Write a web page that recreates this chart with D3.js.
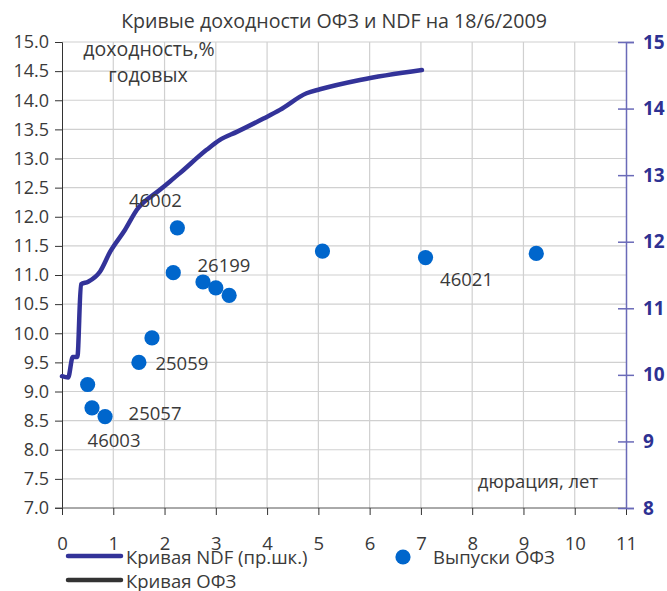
<!DOCTYPE html>
<html><head><meta charset="utf-8">
<script src="https://cdn.jsdelivr.net/npm/d3@7"></script>
<style>
body{margin:0;background:#fff;}
text{font-family:"Open Sans",sans-serif;}
</style></head>
<body><svg id="c" width="667" height="591"></svg>
<script>
// ---- data ----
const title = "Кривые доходности ОФЗ и NDF на 18/6/2009";
const ndfDuration = [0.00, 0.12, 0.21, 0.30, 0.37, 0.51, 0.74, 0.94, 1.23, 1.46, 1.91, 2.30, 2.82, 3.08, 3.41, 3.93, 4.25, 4.77, 5.03, 5.81, 7.02];
const ndfYield    = [9.98, 9.96, 10.27, 10.27, 11.36, 11.40, 11.55, 11.85, 12.18, 12.48, 12.78, 13.03, 13.38, 13.53, 13.65, 13.85, 13.98, 14.23, 14.29, 14.43, 14.58];
const ofzCurveDuration = [];
const ofzCurveYield = [];
const issueDuration = [0.50, 0.585, 0.84, 1.50, 1.755, 2.17, 2.25, 2.75, 3.00, 3.26, 5.08, 7.09, 9.25];
const issueYield    = [9.12, 8.72, 8.57, 9.50, 9.92, 11.04, 11.81, 10.88, 10.78, 10.65, 11.41, 11.30, 11.37];
const issueLabels   = ["", "", "46003|25057", "25059", "", "", "46002", "26199", "", "", "", "46021", ""];
const xTicks = [0,1,2,3,4,5,6,7,8,9,10,11];
const yLeftTicks = [7.0,7.5,8.0,8.5,9.0,9.5,10.0,10.5,11.0,11.5,12.0,12.5,13.0,13.5,14.0,14.5,15.0];
const yRightTicks = [8,9,10,11,12,13,14,15];
const legendNames = ["Кривая NDF (пр.шк.)", "Кривая ОФЗ", "Выпуски ОФЗ"];
const yLabelLines = ["доходность,%", "годовых"];
const xLabel = "дюрация, лет";

// ---- layout ----
const svg = d3.select("#c");
const L = 62, R = 626, T = 42, B = 508;
const x = d3.scaleLinear().domain([0, 11]).range([L, R]);
const yL = d3.scaleLinear().domain([7, 15]).range([B, T]);
const yR = d3.scaleLinear().domain([8, 15]).range([B, T]);
const navy = "#333399", dot = "#0066CC", txt = "#3a3a3a";

// grid
svg.append("g").selectAll("line").data(yLeftTicks.filter(d => d > 7)).join("line")
  .attr("x1", L).attr("x2", R).attr("y1", d => yL(d)).attr("y2", d => yL(d))
  .attr("stroke", "#d0d0d0").attr("stroke-width", 1.2);
svg.append("g").selectAll("line").data(xTicks.filter(d => d > 0 && d < 11)).join("line")
  .attr("y1", T).attr("y2", B).attr("x1", d => x(d)).attr("x2", d => x(d))
  .attr("stroke", "#d0d0d0").attr("stroke-width", 1.2);

// left axis
const gl = svg.append("g").attr("transform", `translate(${L},0)`)
  .call(d3.axisLeft(yL).tickValues(yLeftTicks).tickFormat(d3.format(".1f")).tickSize(7).tickPadding(6));
gl.select(".domain").attr("stroke", "#333");
gl.selectAll(".tick line").attr("stroke", "#333");
gl.selectAll("text").attr("font-size", 18).attr("fill", txt).attr("font-family", "Open Sans");

// bottom axis
const gb = svg.append("g").attr("transform", `translate(0,${B})`)
  .call(d3.axisBottom(x).tickValues(xTicks).tickFormat(d3.format("d")).tickSize(7).tickPadding(22));
gb.select(".domain").attr("stroke", "#555").attr("d", `M${L-7},0H${R}`);
gb.selectAll(".tick line").attr("stroke", "#333");
gb.selectAll("text").attr("font-size", 18.5).attr("fill", txt).attr("font-family", "Open Sans");

// right axis
const gr = svg.append("g").attr("transform", `translate(${R},0)`)
  .call(d3.axisRight(yR).tickValues(yRightTicks).tickFormat(d3.format("d")).tickSize(8).tickPadding(9));
gr.select(".domain").attr("stroke", "#6a6ab8").attr("stroke-width", 1.5);
gr.selectAll(".tick line").attr("stroke", "#6a6ab8").attr("stroke-width", 1.5).attr("x1", -8);
gr.selectAll("text").attr("font-size", 19).attr("font-weight", "bold").attr("fill", "#2E3192").attr("font-family", "Open Sans");

// NDF line
const ndf = ndfDuration.map((d, i) => [d, ndfYield[i]]);
svg.append("path").datum(ndf)
  .attr("d", d3.line().x(d => x(d[0])).y(d => yR(d[1])).curve(d3.curveMonotoneX))
  .attr("fill", "none").attr("stroke", navy).attr("stroke-width", 4.5).attr("stroke-linejoin", "round").attr("stroke-linecap", "round");

// OFZ curve (no visible data)
const ofz = ofzCurveDuration.map((d, i) => [d, ofzCurveYield[i]]);
if (ofz.length) svg.append("path").datum(ofz)
  .attr("d", d3.line().x(d => x(d[0])).y(d => yL(d[1])))
  .attr("fill", "none").attr("stroke", "#333").attr("stroke-width", 4.5);

// issues
const issues = issueDuration.map((d, i) => ({x: d, y: issueYield[i], label: issueLabels[i]}));
svg.append("g").selectAll("circle").data(issues).join("circle")
  .attr("cx", d => x(d.x)).attr("cy", d => yL(d.y)).attr("r", 7.6).attr("fill", dot);

// labels with offsets
const offsets = {"46003": [9, 23], "25057": [50, -4], "25059": [43, 0], "46002": [-22, -28], "26199": [21, -17], "46021": [41, 21]};
issues.forEach(d => {
  if (!d.label) return;
  d.label.split("|").forEach(lab => {
    const o = offsets[lab];
    svg.append("text").attr("x", x(d.x) + o[0]).attr("y", yL(d.y) + o[1])
      .attr("text-anchor", "middle").attr("dominant-baseline", "central")
      .attr("font-size", 18.5).attr("fill", txt).text(lab);
  });
});

// title and axis captions
svg.append("text").attr("x", 334).attr("y", 20).attr("text-anchor", "middle").attr("dominant-baseline", "central")
  .attr("font-size", 19.6).attr("fill", txt).text(title);
svg.append("text").attr("x", 149).attr("y", 48).attr("text-anchor", "middle").attr("dominant-baseline", "central")
  .attr("font-size", 19.5).attr("fill", txt).text(yLabelLines[0]);
svg.append("text").attr("x", 148).attr("y", 74).attr("text-anchor", "middle").attr("dominant-baseline", "central")
  .attr("font-size", 19.5).attr("fill", txt).text(yLabelLines[1]);
svg.append("text").attr("x", 538).attr("y", 480).attr("text-anchor", "middle").attr("dominant-baseline", "central")
  .attr("font-size", 18.5).attr("fill", txt).text(xLabel);

// legend
const lg = svg.append("g");
lg.append("line").attr("x1", 68).attr("x2", 121).attr("y1", 556).attr("y2", 556).attr("stroke", navy).attr("stroke-width", 4.5).attr("stroke-linecap", "round");
lg.append("text").attr("x", 126).attr("y", 556).attr("dominant-baseline", "central").attr("font-size", 18.5).attr("fill", txt).text(legendNames[0]);
lg.append("line").attr("x1", 68).attr("x2", 121).attr("y1", 580).attr("y2", 580).attr("stroke", "#333").attr("stroke-width", 4.5).attr("stroke-linecap", "round");
lg.append("text").attr("x", 126).attr("y", 580).attr("dominant-baseline", "central").attr("font-size", 18.5).attr("fill", txt).text(legendNames[1]);
lg.append("circle").attr("cx", 403).attr("cy", 557).attr("r", 7.6).attr("fill", dot);
lg.append("text").attr("x", 433).attr("y", 556).attr("dominant-baseline", "central").attr("font-size", 18.5).attr("fill", txt).text(legendNames[2]);
</script></body></html>
